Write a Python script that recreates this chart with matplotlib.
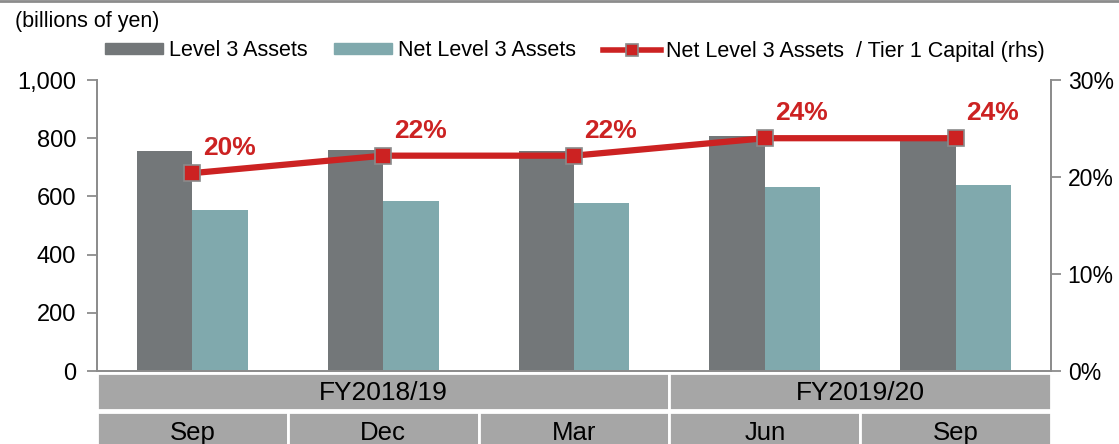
import numpy as np
import matplotlib.pyplot as plt
from matplotlib.patches import Rectangle
from matplotlib.lines import Line2D
from matplotlib.transforms import blended_transform_factory

plt.rcParams['font.family'] = ['Liberation Sans', 'DejaVu Sans']

months = ['Sep', 'Dec', 'Mar', 'Jun', 'Sep']
years = ['FY2018/19', 'FY2019/20']
year_spans = [3, 2]
level3 = [755, 760, 755, 808, 800]
net_level3 = [553, 583, 577, 632, 638]
ratio = [20.4, 22.2, 22.2, 24.0, 24.0]
ratio_labels = ['20%', '22%', '22%', '24%', '24%']

c_l3 = '#737779'
c_net = '#80a9ad'
c_line = '#cc2222'

fig = plt.figure(figsize=(11.19, 4.44), dpi=100)
ax = fig.add_axes([0.0867, 0.1644, 0.8525, 0.6554])
ax2 = ax.twinx()

x = np.arange(len(months))
w = 0.29
ax.bar(x - w / 2, level3, w, color=c_l3, zorder=2)
ax.bar(x + w / 2, net_level3, w, color=c_net, zorder=2)
ax.set_xlim(-0.5, 4.5)
ax.set_ylim(0, 1000)
ax.set_yticks(range(0, 1001, 200))
ax.set_yticklabels(['{:,}'.format(v) for v in range(0, 1001, 200)])
ax.set_xticks([])

ax2.plot(x, ratio, color=c_line, lw=4.5, marker='s', ms=12,
         mfc=c_line, mec='#8a8a8a', mew=1.2, zorder=5)
ax2.set_ylim(0, 30)
ax2.set_yticks(range(0, 31, 10))
ax2.set_yticklabels(['{}%'.format(v) for v in range(0, 31, 10)])
for xi, yi, lab in zip(x, ratio, ratio_labels):
    ax2.annotate(lab, (xi, yi), xytext=(37, 25), textcoords='offset pixels',
                 ha='center', va='center', color=c_line, fontsize=19,
                 fontweight='bold')

for a in (ax, ax2):
    a.spines['top'].set_visible(False)
    for s in ('left', 'right', 'bottom'):
        a.spines[s].set_color('#8c8c8c')
        a.spines[s].set_linewidth(1.3)
    a.tick_params(axis='y', labelsize=17, length=7, width=1.3,
                  color='#8c8c8c', pad=8)
ax2.tick_params(axis='y', labelsize=16.5, pad=5)
ax.tick_params(axis='x', length=0)
ax2.set_zorder(ax.get_zorder() + 1)
ax.patch.set_visible(False)

# category table below the axis
H = 444
tr = blended_transform_factory(ax.transData, fig.transFigure)
def fy(px):
    return 1 - px / H

row1 = (373, 410)
row2 = (412, 444)
start = -0.5
for lab, span in zip(years, year_spans):
    r = Rectangle((start, fy(row1[1])), span, fy(row1[0]) - fy(row1[1]),
                  transform=tr, facecolor='#a6a6a6', edgecolor='white',
                  lw=2, clip_on=False)
    fig.add_artist(r)
    fig.text(start + span / 2, fy((row1[0] + row1[1]) / 2 + 1), lab, transform=tr,
             ha='center', va='center', fontsize=19)
    start += span
for i, lab in enumerate(months):
    r = Rectangle((i - 0.5, fy(row2[1] + 5)), 1, fy(row2[0]) - fy(row2[1] + 5),
                  transform=tr, facecolor='#a6a6a6', edgecolor='white',
                  lw=2, clip_on=False)
    fig.add_artist(r)
    fig.text(i, fy(row2[0] + 21), lab, transform=tr,
             ha='center', va='center', fontsize=18.5)

fig.text(0.013, 1 - 21 / H, '(billions of yen)', ha='left', va='center',
         fontsize=15.5)

handles = [Rectangle((0, 0), 1, 1, color=c_l3),
           Rectangle((0, 0), 1, 1, color=c_net),
           Line2D([], [], color=c_line, lw=4, marker='s', ms=9,
                  mfc=c_line, mec='#8a8a8a', mew=1.2)]
labels = ['Level 3 Assets', 'Net Level 3 Assets',
          'Net Level 3 Assets  / Tier 1 Capital (rhs)']
fig.legend(handles, labels, loc='center left', bbox_to_anchor=(0.094, 1 - 51 / H),
           ncol=3, frameon=False, fontsize=15.5, handlelength=2.7,
           handleheight=0.4, handletextpad=0.25, columnspacing=1.25,
           borderaxespad=0, borderpad=0)

fig.add_artist(Line2D([0, 1], [1 - 1 / H, 1 - 1 / H], color='#8c8c8c', lw=2,
                      transform=fig.transFigure))

fig.savefig('out.png', dpi=100)
